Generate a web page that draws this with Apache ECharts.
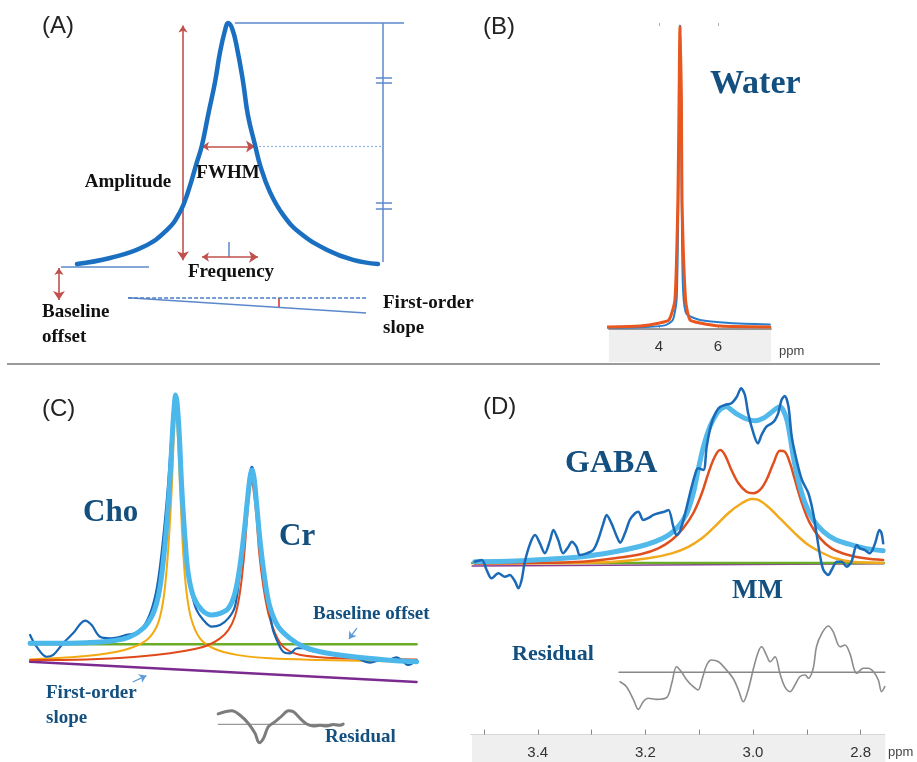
<!DOCTYPE html>
<html><head><meta charset="utf-8">
<script src="https://cdn.jsdelivr.net/npm/echarts@6/dist/echarts.min.js"></script>
<style>html,body{margin:0;padding:0;background:#fff}#c{width:917px;height:762px}</style>
</head><body><div id="c"></div>
<script>
// ---------------- Panel A : model Lorentzian (x = offset in half-widths, y = relative amplitude)
const aPeakX = [-5.70,-4.45,-3.21,-2.30,-1.81,-1.51,-1.17,-0.98,-0.75,-0.49,-0.30,-0.11,0,0.15,0.34,0.57,0.75,1.02,1.21,1.58,2.08,2.72,3.74,4.72,5.66];
const aPeakY = [0.004,0.029,0.074,0.145,0.219,0.302,0.426,0.496,0.620,0.756,0.880,0.971,1.0,0.979,0.897,0.756,0.620,0.496,0.413,0.302,0.207,0.132,0.062,0.021,0.004];
const aGuideLines = [ // [x1,y1,x2,y2]
  [0.26,1.0,6.64,1.0],
  [5.85,1.0,5.85,0.012],
  [5.58,0.773,6.19,0.773],[5.58,0.752,6.19,0.752],
  [5.58,0.256,6.19,0.256],[5.58,0.231,6.19,0.231],
  [0.04,0.095,0.04,0.033],
  [-6.30,-0.008,-2.98,-0.008],
  [-3.77,-0.135,5.21,-0.198]
];
const aHalfLine = [1.02,0.49,5.85,0.49];
const aFlatLine = [-3.77,-0.135,5.21,-0.135];
const aArrows = [
  [-1.70,0.99,-1.70,0.02],
  [-0.98,0.49,1.02,0.49],
  [-0.98,0.033,1.13,0.033],
  [-6.38,-0.012,-6.38,-0.145]
];
const aAngleMark = [1.92,-0.137,1.92,-0.174];

// ---------------- Panel B : water peak (ppm)
const bTicks = [4, 6];
const bDataPpm = [2.27,3.36,4.20,4.47,4.60,4.66,4.70,4.72,4.75,4.78,4.82,4.93,5.39,6.40,7.76];
const bDataVal = [0.004,0.006,0.012,0.03,0.10,0.45,0.90,1.0,0.70,0.30,0.12,0.05,0.03,0.02,0.015];
const bFitPpm = [2.27,3.36,4.03,4.34,4.54,4.64,4.68,4.71,4.76,4.78,4.90,5.05,5.39,6.07,7.76];
const bFitVal = [0.007,0.01,0.02,0.03,0.096,0.426,0.756,1.0,0.756,0.426,0.096,0.03,0.02,0.01,0.007];

// ---------------- Panel C : Cho / Cr fit (ppm, intensity)
const cDataPpm = [3.584,3.567,3.540,3.523,3.497,3.471,3.439,3.422,3.400,3.374,3.347,3.330,3.308,3.286,3.268,3.255,3.247,3.238,3.229,3.220,3.211,3.205,3.201,3.197,3.191,3.185,3.176,3.168,3.159,3.146,3.128,3.106,3.084,3.062,3.045,3.032,3.021,3.012,3.005,3.000,2.995,2.988,2.979,2.966,2.954,2.946,2.933,2.918,2.900,2.882,2.865,2.847,2.821,2.768,2.733,2.689,2.663,2.637,2.619,2.602,2.589,2.567];
const cDataVal = [9.8,5.4,1.6,2.3,6.7,10.4,15.2,13.5,9.1,8.5,9.1,9.8,10.4,12.9,17.9,24.2,30.5,40.5,53.0,68.0,86.8,98.1,100,96.9,84.3,65.5,45.5,33.0,25.5,19.2,15.4,12.9,13.5,16.1,20.4,33.0,46.7,63.0,71.2,73.0,70.6,60.5,46.7,30.5,20.4,12.3,7.3,3.5,2.9,4.8,4.8,3.9,3.5,2.3,1.6,-0.6,0.4,0.6,1.4,-0.3,-1.5,0.4];
const cFitPpm = [3.584,3.523,3.435,3.365,3.321,3.286,3.264,3.251,3.242,3.233,3.224,3.216,3.209,3.204,3.201,3.197,3.191,3.185,3.176,3.168,3.154,3.132,3.106,3.084,3.062,3.045,3.032,3.021,3.012,3.005,3.000,2.995,2.988,2.979,2.966,2.953,2.931,2.900,2.865,2.821,2.733,2.646,2.567];
const cFitVal = [6.65,6.65,6.9,7.6,9.1,12.3,16.7,21.7,27.9,38.0,51.8,68.0,86.8,96.9,100,96.9,84.3,65.5,45.5,33.0,24.2,19.2,17.3,17.9,19.8,25.5,35.5,48.0,60.5,69.3,71.8,69.3,59.3,45.5,30.5,20.4,12.9,8.5,5.4,3.5,1.6,0.4,-0.3];
const cChoPpm = [3.584,3.479,3.391,3.321,3.277,3.251,3.238,3.229,3.220,3.211,3.205,3.200,3.196,3.189,3.181,3.172,3.159,3.137,3.102,3.040,2.953,2.821,2.567];
const cChoVal = [0.6,1.4,2.6,4.8,7.9,12.9,19.2,27.9,43.0,65.5,86.8,95.0,86.8,64.3,40.5,25.5,15.4,8.5,4.8,2.3,1.0,0.4,-0.3];
const cCrPpm = [3.584,3.435,3.303,3.216,3.154,3.115,3.084,3.062,3.045,3.032,3.021,3.012,3.005,3.001,2.997,2.989,2.981,2.970,2.957,2.939,2.918,2.882,2.821,2.733,2.567];
const cCrVal = [0.4,0.6,1.6,2.9,4.4,6.0,8.5,11.7,16.7,25.5,39.2,55.5,65.5,67.4,65.5,55.5,40.5,27.9,17.9,10.4,5.4,2.6,1.4,0.9,0.6];
const cOffsetPpm = [3.584,2.567];
const cOffsetVal = [6.3,6.3];
const cSlopePpm = [3.584,2.567];
const cSlopeVal = [-0.3,-7.9];
const cResPpm = [3.089,3.053,3.032,3.010,2.992,2.981,2.970,2.957,2.939,2.922,2.904,2.891,2.874,2.856,2.839,2.821,2.803,2.786,2.768,2.760];
const cResVal = [-19.9,-18.7,-20.3,-23.4,-27.2,-30.7,-29.1,-24.7,-22.8,-20.7,-18.7,-19.1,-21.5,-23.7,-24.4,-24.2,-24.4,-23.9,-24.2,-23.7];
const cResZeroPpm = [3.089,2.760];
const cResZeroVal = [-23.8,-23.8];
const cPointers = [[2.724,12.4,2.745,8.3],[3.314,-7.9,3.278,-5.5]];

// ---------------- Panel D : GABA / MM fit (ppm, intensity)
const dTicks = [2.8,2.9,3.0,3.1,3.2,3.3,3.4,3.5];
const dLabels = [2.8,3.0,3.2,3.4];
const dDataPpm = [3.517,3.504,3.495,3.486,3.473,3.461,3.452,3.442,3.436,3.430,3.424,3.414,3.405,3.396,3.387,3.377,3.371,3.362,3.353,3.343,3.337,3.328,3.322,3.309,3.297,3.288,3.278,3.272,3.263,3.253,3.247,3.238,3.229,3.219,3.213,3.204,3.195,3.185,3.176,3.164,3.157,3.148,3.142,3.136,3.126,3.117,3.108,3.102,3.092,3.086,3.077,3.064,3.052,3.040,3.030,3.022,3.015,3.009,2.999,2.991,2.984,2.975,2.965,2.959,2.953,2.947,2.941,2.934,2.928,2.919,2.909,2.897,2.888,2.882,2.875,2.869,2.860,2.854,2.844,2.835,2.826,2.817,2.807,2.801,2.792,2.783,2.773,2.765,2.761,2.758];
const dDataVal = [0.8,1.9,-4.5,-9.8,-6.6,-8.8,-7.7,-12.0,-16.2,-10.9,0.8,12.6,17.9,12.6,6.2,14.7,21.2,14.7,6.2,10.4,13.7,10.4,5.1,6.2,8.3,14.7,25.4,30.8,25.4,16.9,13.0,19.0,27.6,31.9,32.9,27.6,28.7,30.8,31.9,32.9,34.0,23.3,17.9,20.1,31.9,44.7,56.4,60.7,59.6,74.6,89.6,99.2,101.3,102.4,106.6,112.0,107.7,96.0,83.1,76.7,82.1,87.4,89.6,91.7,96.0,104.5,107.1,100.2,81.0,66.0,53.2,44.7,31.9,19.0,4.0,-4.5,-7.7,-4.5,0.8,0.8,-2.4,0.8,11.5,9.4,8.3,6.2,12.6,21.2,19.0,12.6];
const dFitPpm = [3.517,3.442,3.380,3.318,3.257,3.213,3.182,3.157,3.139,3.123,3.111,3.102,3.092,3.080,3.067,3.058,3.049,3.040,3.027,3.012,2.996,2.981,2.968,2.956,2.950,2.944,2.937,2.931,2.925,2.916,2.903,2.888,2.869,2.848,2.823,2.792,2.758];
const dFitVal = [0.8,1.3,2.4,4.0,7.2,10.4,13.7,17.9,23.3,31.9,44.7,59.6,74.6,87.4,96.0,99.2,100.2,98.1,94.9,92.3,91.2,92.8,96.0,99.2,100.2,98.1,91.7,81.0,68.1,53.2,38.3,27.6,20.1,15.2,12.2,9.4,7.9];
const dGabaPpm = [3.517,3.411,3.318,3.257,3.207,3.176,3.151,3.130,3.111,3.095,3.083,3.071,3.061,3.052,3.040,3.027,3.012,2.999,2.987,2.975,2.962,2.950,2.941,2.931,2.922,2.909,2.894,2.875,2.854,2.823,2.792,2.758];
const dGabaVal = [-0.3,0.0,0.8,3.0,5.8,9.4,14.7,22.2,31.9,44.7,57.5,68.1,72.4,69.2,59.6,51.1,45.7,44.7,46.8,53.2,63.9,72.0,71.4,63.9,53.2,38.3,25.4,15.8,9.4,5.1,3.0,1.9];
const dMmPpm = [3.517,3.349,3.257,3.195,3.151,3.120,3.095,3.071,3.046,3.021,3.002,2.990,2.972,2.947,2.922,2.897,2.872,2.848,2.817,2.758];
const dMmVal = [-0.3,0.0,0.8,3.0,6.2,10.4,15.8,23.3,31.9,38.3,41.0,40.4,36.1,27.6,19.0,11.5,6.6,3.0,0.8,0.0];
const dOffsetPpm = [3.522,2.757];
const dOffsetVal = [0,0];
const dSlopePpm = [3.522,2.757];
const dSlopeVal = [-2.0,-0.5];
const dResPpm = [3.247,3.235,3.222,3.213,3.204,3.195,3.179,3.160,3.151,3.142,3.133,3.123,3.111,3.102,3.095,3.086,3.077,3.064,3.052,3.037,3.027,3.018,3.009,2.999,2.990,2.984,2.975,2.968,2.959,2.950,2.941,2.931,2.922,2.913,2.903,2.897,2.888,2.882,2.872,2.860,2.851,2.838,2.829,2.820,2.807,2.795,2.786,2.776,2.767,2.761,2.755];
const dResVal = [-76.1,-79.3,-87.8,-93.8,-88.9,-86.7,-87.4,-86.1,-77.1,-66.5,-69.7,-75.0,-79.3,-81.4,-75.0,-65.4,-62.2,-63.3,-67.5,-73.9,-81.4,-88.9,-81.4,-67.5,-56.9,-53.7,-59.0,-63.3,-60.1,-70.7,-79.3,-82.5,-78.2,-72.9,-71.8,-73.9,-67.5,-53.7,-45.1,-40.4,-44.0,-53.7,-52.6,-57.9,-70.7,-67.5,-67.5,-69.7,-75.0,-82.5,-79.3];
const dResZeroPpm = [3.249,2.755];
const dResZeroVal = [-70.1,-70.1];

// ---------------- layout / style
const SERIF = '"Liberation Serif","DejaVu Serif",serif';
const SANS = '"Liberation Sans","DejaVu Sans",sans-serif';
const NAVY = '#134f7f';
const gA = {left:16, top:10.9, width:424, height:350.9};
const gB = {left:608.85, top:26, width:162.25, height:303};
const gC = {left:27.8, top:381.7, width:391.4, height:372.4};
const gD = {left:470.5, top:375.8, width:414.3, height:358.8};

const zip = (xs, ys) => xs.map((x, i) => [x, ys[i]]);
function curve(xi, yi, xs, ys, color, width, extra) {
  return Object.assign({type:'line', xAxisIndex:xi, yAxisIndex:yi, data:zip(xs, ys), showSymbol:false,
    symbol:'none', smooth:0.35, clip:false, silent:true,
    lineStyle:{color:color, width:width, cap:'round', join:'round'}}, extra || {});
}
function segs(xi, yi, list, color, width, type, sym, symSize) {
  return {type:'lines', coordinateSystem:'cartesian2d', xAxisIndex:xi, yAxisIndex:yi, silent:true,
    symbol: sym || ['none','none'], symbolSize: symSize || 8,
    lineStyle:{color:color, width:width, type:type || 'solid', opacity:1, curveness:0},
    data: list.map(s => ({coords:[[s[0], s[1]], [s[2], s[3]]]}))};
}
function txt(x, y, s, size, opts) {
  opts = opts || {};
  return {type:'text', x:x, y:y, z:50, style:{text:s, fill:opts.fill || '#111',
    font:(opts.weight || 'bold') + ' ' + size + 'px ' + (opts.family || SERIF),
    align:opts.align || 'left', verticalAlign:'middle'}};
}
const hidden = {show:false};

const option = {
  animation:false,
  backgroundColor:'#fff',
  grid:[gA, gB, gC, gD].map(g => Object.assign({containLabel:false}, g)),
  xAxis:[
    Object.assign({gridIndex:0, type:'value', min:-8, max:8}, hidden),
    {gridIndex:1, type:'value', min:2.3, max:7.8, position:'bottom',
      axisLine:{show:true, onZero:false, lineStyle:{color:'#7a7a7a', width:1.5}},
      axisTick:{show:true, inside:true, length:3, customValues:bTicks, lineStyle:{color:'#999'}},
      axisLabel:{show:true, customValues:bTicks, margin:10, fontSize:15, color:'#333', fontFamily:SANS},
      splitLine:{show:false}},
    {gridIndex:1, type:'value', min:2.3, max:7.8, position:'top',
      axisLine:{show:false, onZero:false}, axisLabel:{show:false}, splitLine:{show:false},
      axisTick:{show:true, inside:false, length:3, customValues:bTicks, lineStyle:{color:'#aaa'}}},
    Object.assign({gridIndex:2, type:'value', inverse:true, min:2.56, max:3.59}, hidden),
    {gridIndex:3, type:'value', inverse:true, min:2.755, max:3.525, position:'bottom',
      axisLine:{show:true, onZero:false, lineStyle:{color:'#d6d6d6', width:1}},
      axisTick:{show:true, inside:true, length:5, customValues:dTicks, lineStyle:{color:'#888'}},
      axisLabel:{show:true, customValues:dLabels, margin:11, fontSize:15, color:'#333', fontFamily:SANS,
        formatter: v => Number(v).toFixed(1)},
      splitLine:{show:false}}
  ],
  yAxis:[
    Object.assign({gridIndex:0, type:'value', min:-0.4, max:1.05}, hidden),
    Object.assign({gridIndex:1, type:'value', min:0, max:1}, hidden),
    Object.assign({gridIndex:2, type:'value', min:-35, max:105}, hidden),
    Object.assign({gridIndex:3, type:'value', min:-110, max:120}, hidden)
  ],
  graphic:[
    {type:'rect', z:-10, shape:{x:gB.left, y:gB.top + gB.height, width:gB.width, height:33}, style:{fill:'#efefef'}},
    {type:'rect', z:-10, shape:{x:gD.left + 1.5, y:gD.top + gD.height, width:gD.width - 1, height:28}, style:{fill:'#efefef'}},
    {type:'line', z:-5, shape:{x1:7, y1:364, x2:880, y2:364}, style:{stroke:'#9a9a9a', lineWidth:2}},
    // panel A texts
    txt(42, 26, '(A)', 24, {weight:'normal', family:SANS, fill:'#222'}),
    txt(128, 182, 'Amplitude', 19, {align:'center'}),
    txt(228, 173, 'FWHM', 19, {align:'center'}),
    txt(231, 272, 'Frequency', 19, {align:'center'}),
    txt(42, 312, 'Baseline', 19),
    txt(42, 337, 'offset', 19),
    txt(383, 303, 'First-order', 19),
    txt(383, 328, 'slope', 19),
    // panel B texts
    txt(483, 27, '(B)', 24, {weight:'normal', family:SANS, fill:'#222'}),
    txt(710, 84, 'Water', 34, {fill:NAVY}),
    txt(779, 351, 'ppm', 13, {weight:'normal', family:SANS, fill:'#444'}),
    // panel C texts
    txt(42, 409, '(C)', 24, {weight:'normal', family:SANS, fill:'#222'}),
    txt(83, 513, 'Cho', 31, {fill:NAVY}),
    txt(279, 537, 'Cr', 31, {fill:NAVY}),
    txt(313, 614, 'Baseline offset', 19, {fill:NAVY}),
    txt(46, 693, 'First-order', 19, {fill:NAVY}),
    txt(46, 718, 'slope', 19, {fill:NAVY}),
    txt(325, 737, 'Residual', 19, {fill:NAVY}),
    // panel D texts
    txt(483, 407, '(D)', 24, {weight:'normal', family:SANS, fill:'#222'}),
    txt(565, 464, 'GABA', 32, {fill:NAVY}),
    txt(732, 591, 'MM', 27, {fill:NAVY}),
    txt(512, 654, 'Residual', 22, {fill:NAVY}),
    txt(888, 752, 'ppm', 13, {weight:'normal', family:SANS, fill:'#444'})
  ],
  series:[
    // ---- A
    segs(0, 0, aGuideLines, '#5b88cc', 1.5),
    segs(0, 0, [aHalfLine], '#8fb2e2', 1.2, [2, 2]),
    segs(0, 0, [aFlatLine], '#4a7cc4', 1.5, [4, 2]),
    segs(0, 0, aArrows, '#c0504d', 1.6, 'solid', ['arrow','arrow'], [7, 9]),
    segs(0, 0, [aAngleMark], '#d03a3a', 1.6),
    curve(0, 0, aPeakX, aPeakY, '#1a6fc0', 4.5, {smooth:0.45}),
    // ---- B
    curve(1, 1, bDataPpm, bDataVal, '#2a7dca', 2, {smooth:0.2}),
    curve(1, 1, bFitPpm, bFitVal, '#e8571e', 3, {smooth:0.2}),
    // ---- C
    curve(3, 2, cSlopePpm, cSlopeVal, '#7b2a8f', 2.5, {smooth:false}),
    curve(3, 2, cOffsetPpm, cOffsetVal, '#6aab2a', 2.5, {smooth:false}),
    curve(3, 2, cChoPpm, cChoVal, '#f2aa10', 2),
    curve(3, 2, cCrPpm, cCrVal, '#e04a1a', 2),
    curve(3, 2, cDataPpm, cDataVal, '#1666b4', 2.2),
    curve(3, 2, cFitPpm, cFitVal, '#4cb7ea', 5),
    curve(3, 2, cResZeroPpm, cResZeroVal, '#999', 1.2, {smooth:false}),
    curve(3, 2, cResPpm, cResVal, '#7c7c7c', 3),
    segs(3, 2, cPointers, '#5a9bd8', 1.3, 'solid', ['none','arrow'], [6, 7]),
    // ---- D
    curve(4, 3, dSlopePpm, dSlopeVal, '#8a3a9a', 1.5, {smooth:false}),
    curve(4, 3, dOffsetPpm, dOffsetVal, '#6aab2a', 2.5, {smooth:false}),
    curve(4, 3, dMmPpm, dMmVal, '#f2aa1c', 2.5),
    curve(4, 3, dGabaPpm, dGabaVal, '#e0501f', 2.5),
    curve(4, 3, dFitPpm, dFitVal, '#52b9ea', 5),
    curve(4, 3, dDataPpm, dDataVal, '#1a6ab8', 2.5, {smooth:0.3}),
    curve(4, 3, dResZeroPpm, dResZeroVal, '#888', 1.5, {smooth:false}),
    curve(4, 3, dResPpm, dResVal, '#8c8c8c', 1.6)
  ]
};
echarts.init(document.getElementById('c'), null, {renderer:'canvas'}).setOption(option);
</script>
</body></html>
